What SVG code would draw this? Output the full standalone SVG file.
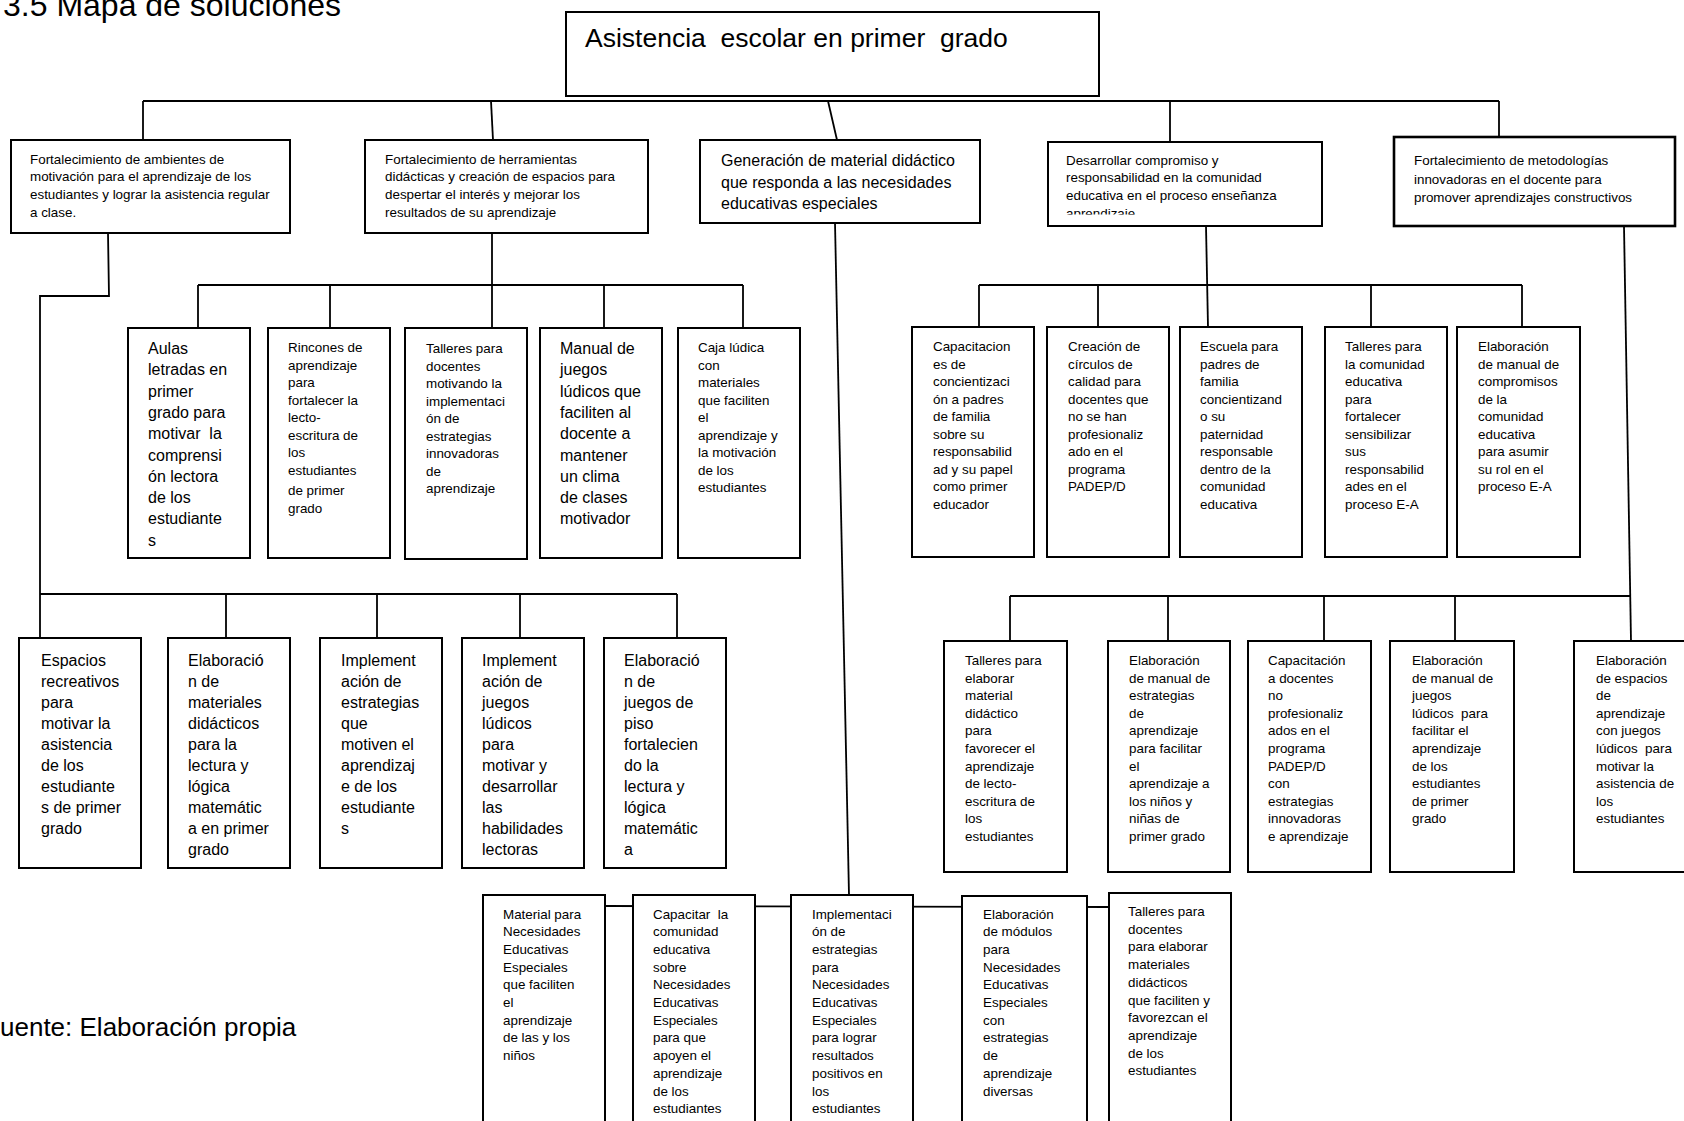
<svg xmlns="http://www.w3.org/2000/svg" width="1684" height="1121" viewBox="0 0 1684 1121">
<style>
text{font-family:"Liberation Sans",Arial,sans-serif;fill:#000}
.s{font-size:13.4px}
.m{font-size:16px}
.b{font-size:26.5px}
.box{fill:#fff;stroke:#000;stroke-width:2}
.ln{fill:none;stroke:#000;stroke-width:1.8}
</style>
<defs>
<clipPath id="clipD"><rect x="1048" y="142" width="274" height="72.5"/></clipPath>
</defs>
<rect width="1684" height="1121" fill="#fff"/>
<text x="3" y="16" style="font-size:32px">3.5 Mapa de soluciones</text>
<text x="0" y="1036" style="font-size:26px">uente: Elaboración propia</text>

<g id="connectors">
<line class="ln" x1="143" y1="101" x2="1499" y2="101"/>
<line class="ln" x1="143" y1="101" x2="143" y2="140"/>
<line class="ln" x1="491" y1="101" x2="493" y2="140"/>
<line class="ln" x1="828" y1="101" x2="837" y2="140"/>
<line class="ln" x1="1170" y1="101" x2="1170" y2="142"/>
<line class="ln" x1="1499" y1="101" x2="1499" y2="137"/>
<polyline class="ln" points="108,233 109,296 40,296 40,638"/>
<line class="ln" x1="40" y1="594" x2="677" y2="594"/>
<line class="ln" x1="226" y1="594" x2="226" y2="638"/>
<line class="ln" x1="377" y1="594" x2="377" y2="638"/>
<line class="ln" x1="520" y1="594" x2="520" y2="638"/>
<line class="ln" x1="677" y1="594" x2="677" y2="638"/>
<line class="ln" x1="492" y1="232" x2="492" y2="328"/>
<line class="ln" x1="198" y1="285" x2="743" y2="285"/>
<line class="ln" x1="198" y1="285" x2="198" y2="328"/>
<line class="ln" x1="330" y1="285" x2="330" y2="328"/>
<line class="ln" x1="604" y1="285" x2="604" y2="328"/>
<line class="ln" x1="743" y1="285" x2="743" y2="328"/>
<line class="ln" x1="1206" y1="226" x2="1208" y2="327"/>
<line class="ln" x1="979" y1="285" x2="1522" y2="285"/>
<line class="ln" x1="979" y1="285" x2="979" y2="327"/>
<line class="ln" x1="1098" y1="285" x2="1098" y2="327"/>
<line class="ln" x1="1371" y1="285" x2="1371" y2="327"/>
<line class="ln" x1="1522" y1="285" x2="1522" y2="327"/>
<line class="ln" x1="1624" y1="226" x2="1631" y2="641"/>
<line class="ln" x1="1010" y1="596" x2="1631" y2="596"/>
<line class="ln" x1="1010" y1="596" x2="1010" y2="641"/>
<line class="ln" x1="1168" y1="596" x2="1168" y2="641"/>
<line class="ln" x1="1324" y1="596" x2="1324" y2="641"/>
<line class="ln" x1="1455" y1="596" x2="1455" y2="641"/>
<line class="ln" x1="835" y1="223" x2="849" y2="895"/>
<line class="ln" x1="605" y1="906" x2="1109" y2="907"/>
</g>

<g id="top">
<rect class="box" x="566" y="12" width="533" height="84"/>
<text class="b" x="585" y="47" xml:space="preserve">Asistencia  escolar en primer  grado</text>
</g>

<g id="n-a">
<rect class="box" x="11" y="140" width="279" height="93"/>
<text class="s" y="163.5"><tspan x="30">Fortalecimiento de ambientes de</tspan><tspan x="30" dy="17.7">motivación para el aprendizaje de los</tspan><tspan x="30" dy="17.7">estudiantes y lograr la asistencia regular</tspan><tspan x="30" dy="17.7">a clase.</tspan></text>
</g>
<g id="n-b">
<rect class="box" x="365" y="140" width="283" height="93"/>
<text class="s" y="163.5"><tspan x="385">Fortalecimiento de herramientas</tspan><tspan x="385" dy="17.7">didácticas y creación de espacios para</tspan><tspan x="385" dy="17.7">despertar el interés y mejorar los</tspan><tspan x="385" dy="17.7">resultados de su aprendizaje</tspan></text>
</g>
<g id="n-c">
<rect class="box" x="700" y="140" width="280" height="83"/>
<text class="m" y="166"><tspan x="721">Generación de material didáctico</tspan><tspan x="721" dy="21.5">que responda a las necesidades</tspan><tspan x="721" dy="21.5">educativas especiales</tspan></text>
</g>
<g id="n-d">
<rect class="box" x="1048" y="142" width="274" height="84"/>
<text class="s" y="164.5" clip-path="url(#clipD)"><tspan x="1066">Desarrollar compromiso y</tspan><tspan x="1066" dy="17.7">responsabilidad en la comunidad</tspan><tspan x="1066" dy="17.7">educativa en el proceso enseñanza</tspan><tspan x="1066" dy="17.7">aprendizaje</tspan></text>
</g>
<g id="n-e">
<rect class="box" x="1394" y="137" width="281" height="89" style="stroke-width:2.6"/>
<text class="s" y="165"><tspan x="1414">Fortalecimiento de metodologías</tspan><tspan x="1414" dy="18.5">innovadoras en el docente para</tspan><tspan x="1414" dy="18.5">promover aprendizajes constructivos</tspan></text>
</g>

<g id="n-b1">
<rect class="box" x="128" y="328" width="122" height="230"/>
<text class="m" y="354"><tspan x="148">Aulas</tspan><tspan x="148" dy="21.3">letradas en</tspan><tspan x="148" dy="21.3">primer</tspan><tspan x="148" dy="21.3">grado para</tspan><tspan x="148" dy="21.3" xml:space="preserve">motivar  la</tspan><tspan x="148" dy="21.3">comprensi</tspan><tspan x="148" dy="21.3">ón lectora</tspan><tspan x="148" dy="21.3">de los</tspan><tspan x="148" dy="21.3">estudiante</tspan><tspan x="148" dy="21.3">s</tspan></text>
</g>
<g id="n-b2">
<rect class="box" x="268" y="328" width="122" height="230"/>
<text class="s" y="352"><tspan x="288">Rincones de</tspan><tspan x="288" dy="17.5">aprendizaje</tspan><tspan x="288" dy="17.5">para</tspan><tspan x="288" dy="17.5">fortalecer la</tspan><tspan x="288" dy="17.5">lecto-</tspan><tspan x="288" dy="17.5">escritura de</tspan><tspan x="288" dy="17.5">los</tspan><tspan x="288" dy="17.5">estudiantes</tspan><tspan x="288" dy="20.5">de primer</tspan><tspan x="288" dy="18">grado</tspan></text>
</g>
<g id="n-b3">
<rect class="box" x="405" y="328" width="122" height="231"/>
<text class="s" y="353"><tspan x="426">Talleres para</tspan><tspan x="426" dy="17.5">docentes</tspan><tspan x="426" dy="17.5">motivando la</tspan><tspan x="426" dy="17.5">implementaci</tspan><tspan x="426" dy="17.5">ón de</tspan><tspan x="426" dy="17.5">estrategias</tspan><tspan x="426" dy="17.5">innovadoras</tspan><tspan x="426" dy="17.5">de</tspan><tspan x="426" dy="17.5">aprendizaje</tspan></text>
</g>
<g id="n-b4">
<rect class="box" x="540" y="328" width="122" height="230"/>
<text class="m" y="354"><tspan x="560">Manual de</tspan><tspan x="560" dy="21.3">juegos</tspan><tspan x="560" dy="21.3">lúdicos que</tspan><tspan x="560" dy="21.3">faciliten al</tspan><tspan x="560" dy="21.3">docente a</tspan><tspan x="560" dy="21.3">mantener</tspan><tspan x="560" dy="21.3">un clima</tspan><tspan x="560" dy="21.3">de clases</tspan><tspan x="560" dy="21.3">motivador</tspan></text>
</g>
<g id="n-b5">
<rect class="box" x="678" y="328" width="122" height="230"/>
<text class="s" y="352"><tspan x="698">Caja lúdica</tspan><tspan x="698" dy="17.5">con</tspan><tspan x="698" dy="17.5">materiales</tspan><tspan x="698" dy="17.5">que faciliten</tspan><tspan x="698" dy="17.5">el</tspan><tspan x="698" dy="17.5">aprendizaje y</tspan><tspan x="698" dy="17.5">la motivación</tspan><tspan x="698" dy="17.5">de los</tspan><tspan x="698" dy="17.5">estudiantes</tspan></text>
</g>

<g id="n-d1">
<rect class="box" x="912" y="327" width="122" height="230"/>
<text class="s" y="351"><tspan x="933">Capacitacion</tspan><tspan x="933" dy="17.5">es de</tspan><tspan x="933" dy="17.5">concientizaci</tspan><tspan x="933" dy="17.5">ón a padres</tspan><tspan x="933" dy="17.5">de familia</tspan><tspan x="933" dy="17.5">sobre su</tspan><tspan x="933" dy="17.5">responsabilid</tspan><tspan x="933" dy="17.5">ad y su papel</tspan><tspan x="933" dy="17.5">como primer</tspan><tspan x="933" dy="17.5">educador</tspan></text>
</g>
<g id="n-d2">
<rect class="box" x="1047" y="327" width="122" height="230"/>
<text class="s" y="351"><tspan x="1068">Creación de</tspan><tspan x="1068" dy="17.5">círculos de</tspan><tspan x="1068" dy="17.5">calidad para</tspan><tspan x="1068" dy="17.5">docentes que</tspan><tspan x="1068" dy="17.5">no se han</tspan><tspan x="1068" dy="17.5">profesionaliz</tspan><tspan x="1068" dy="17.5">ado en el</tspan><tspan x="1068" dy="17.5">programa</tspan><tspan x="1068" dy="17.5">PADEP/D</tspan></text>
</g>
<g id="n-d3">
<rect class="box" x="1180" y="327" width="122" height="230"/>
<text class="s" y="351"><tspan x="1200">Escuela para</tspan><tspan x="1200" dy="17.5">padres de</tspan><tspan x="1200" dy="17.5">familia</tspan><tspan x="1200" dy="17.5">concientizand</tspan><tspan x="1200" dy="17.5">o su</tspan><tspan x="1200" dy="17.5">paternidad</tspan><tspan x="1200" dy="17.5">responsable</tspan><tspan x="1200" dy="17.5">dentro de la</tspan><tspan x="1200" dy="17.5">comunidad</tspan><tspan x="1200" dy="17.5">educativa</tspan></text>
</g>
<g id="n-d4">
<rect class="box" x="1325" y="327" width="122" height="230"/>
<text class="s" y="351"><tspan x="1345">Talleres para</tspan><tspan x="1345" dy="17.5">la comunidad</tspan><tspan x="1345" dy="17.5">educativa</tspan><tspan x="1345" dy="17.5">para</tspan><tspan x="1345" dy="17.5">fortalecer</tspan><tspan x="1345" dy="17.5">sensibilizar</tspan><tspan x="1345" dy="17.5">sus</tspan><tspan x="1345" dy="17.5">responsabilid</tspan><tspan x="1345" dy="17.5">ades en el</tspan><tspan x="1345" dy="17.5">proceso E-A</tspan></text>
</g>
<g id="n-d5">
<rect class="box" x="1457" y="327" width="123" height="230"/>
<text class="s" y="351"><tspan x="1478">Elaboración</tspan><tspan x="1478" dy="17.5">de manual de</tspan><tspan x="1478" dy="17.5">compromisos</tspan><tspan x="1478" dy="17.5">de la</tspan><tspan x="1478" dy="17.5">comunidad</tspan><tspan x="1478" dy="17.5">educativa</tspan><tspan x="1478" dy="17.5">para asumir</tspan><tspan x="1478" dy="17.5">su rol en el</tspan><tspan x="1478" dy="17.5">proceso E-A</tspan></text>
</g>

<g id="n-a1">
<rect class="box" x="19" y="638" width="122" height="230"/>
<text class="m" y="665.5"><tspan x="41">Espacios</tspan><tspan x="41" dy="21.1">recreativos</tspan><tspan x="41" dy="21.1">para</tspan><tspan x="41" dy="21.1">motivar la</tspan><tspan x="41" dy="21.1">asistencia</tspan><tspan x="41" dy="21.1">de los</tspan><tspan x="41" dy="21.1">estudiante</tspan><tspan x="41" dy="21.1">s de primer</tspan><tspan x="41" dy="21.1">grado</tspan></text>
</g>
<g id="n-a2">
<rect class="box" x="168" y="638" width="122" height="230"/>
<text class="m" y="665.5"><tspan x="188">Elaboració</tspan><tspan x="188" dy="21.1">n de</tspan><tspan x="188" dy="21.1">materiales</tspan><tspan x="188" dy="21.1">didácticos</tspan><tspan x="188" dy="21.1">para la</tspan><tspan x="188" dy="21.1">lectura y</tspan><tspan x="188" dy="21.1">lógica</tspan><tspan x="188" dy="21.1">matemátic</tspan><tspan x="188" dy="21.1">a en primer</tspan><tspan x="188" dy="21.1">grado</tspan></text>
</g>
<g id="n-a3">
<rect class="box" x="320" y="638" width="122" height="230"/>
<text class="m" y="665.5"><tspan x="341">Implement</tspan><tspan x="341" dy="21.1">ación de</tspan><tspan x="341" dy="21.1">estrategias</tspan><tspan x="341" dy="21.1">que</tspan><tspan x="341" dy="21.1">motiven el</tspan><tspan x="341" dy="21.1">aprendizaj</tspan><tspan x="341" dy="21.1">e de los</tspan><tspan x="341" dy="21.1">estudiante</tspan><tspan x="341" dy="21.1">s</tspan></text>
</g>
<g id="n-a4">
<rect class="box" x="462" y="638" width="122" height="230"/>
<text class="m" y="665.5"><tspan x="482">Implement</tspan><tspan x="482" dy="21.1">ación de</tspan><tspan x="482" dy="21.1">juegos</tspan><tspan x="482" dy="21.1">lúdicos</tspan><tspan x="482" dy="21.1">para</tspan><tspan x="482" dy="21.1">motivar y</tspan><tspan x="482" dy="21.1">desarrollar</tspan><tspan x="482" dy="21.1">las</tspan><tspan x="482" dy="21.1">habilidades</tspan><tspan x="482" dy="21.1">lectoras</tspan></text>
</g>
<g id="n-a5">
<rect class="box" x="604" y="638" width="122" height="230"/>
<text class="m" y="665.5"><tspan x="624">Elaboració</tspan><tspan x="624" dy="21.1">n de</tspan><tspan x="624" dy="21.1">juegos de</tspan><tspan x="624" dy="21.1">piso</tspan><tspan x="624" dy="21.1">fortalecien</tspan><tspan x="624" dy="21.1">do la</tspan><tspan x="624" dy="21.1">lectura y</tspan><tspan x="624" dy="21.1">lógica</tspan><tspan x="624" dy="21.1">matemátic</tspan><tspan x="624" dy="21.1">a</tspan></text>
</g>

<g id="n-e1">
<rect class="box" x="944" y="641" width="123" height="231"/>
<text class="s" y="665"><tspan x="965">Talleres para</tspan><tspan x="965" dy="17.6">elaborar</tspan><tspan x="965" dy="17.6">material</tspan><tspan x="965" dy="17.6">didáctico</tspan><tspan x="965" dy="17.6">para</tspan><tspan x="965" dy="17.6">favorecer el</tspan><tspan x="965" dy="17.6">aprendizaje</tspan><tspan x="965" dy="17.6">de lecto-</tspan><tspan x="965" dy="17.6">escritura de</tspan><tspan x="965" dy="17.6">los</tspan><tspan x="965" dy="17.6">estudiantes</tspan></text>
</g>
<g id="n-e2">
<rect class="box" x="1108" y="641" width="122" height="231"/>
<text class="s" y="665"><tspan x="1129">Elaboración</tspan><tspan x="1129" dy="17.6">de manual de</tspan><tspan x="1129" dy="17.6">estrategias</tspan><tspan x="1129" dy="17.6">de</tspan><tspan x="1129" dy="17.6">aprendizaje</tspan><tspan x="1129" dy="17.6">para facilitar</tspan><tspan x="1129" dy="17.6">el</tspan><tspan x="1129" dy="17.6">aprendizaje a</tspan><tspan x="1129" dy="17.6">los niños y</tspan><tspan x="1129" dy="17.6">niñas de</tspan><tspan x="1129" dy="17.6">primer grado</tspan></text>
</g>
<g id="n-e3">
<rect class="box" x="1248" y="641" width="123" height="231"/>
<text class="s" y="665"><tspan x="1268">Capacitación</tspan><tspan x="1268" dy="17.6">a docentes</tspan><tspan x="1268" dy="17.6">no</tspan><tspan x="1268" dy="17.6">profesionaliz</tspan><tspan x="1268" dy="17.6">ados en el</tspan><tspan x="1268" dy="17.6">programa</tspan><tspan x="1268" dy="17.6">PADEP/D</tspan><tspan x="1268" dy="17.6">con</tspan><tspan x="1268" dy="17.6">estrategias</tspan><tspan x="1268" dy="17.6">innovadoras</tspan><tspan x="1268" dy="17.6">e aprendizaje</tspan></text>
</g>
<g id="n-e4">
<rect class="box" x="1390" y="641" width="124" height="231"/>
<text class="s" y="665"><tspan x="1412">Elaboración</tspan><tspan x="1412" dy="17.6">de manual de</tspan><tspan x="1412" dy="17.6">juegos</tspan><tspan x="1412" dy="17.6" xml:space="preserve">lúdicos  para</tspan><tspan x="1412" dy="17.6">facilitar el</tspan><tspan x="1412" dy="17.6">aprendizaje</tspan><tspan x="1412" dy="17.6">de los</tspan><tspan x="1412" dy="17.6">estudiantes</tspan><tspan x="1412" dy="17.6">de primer</tspan><tspan x="1412" dy="17.6">grado</tspan></text>
</g>
<g id="n-e5">
<rect class="box" x="1574" y="641" width="124" height="231"/>
<text class="s" y="665"><tspan x="1596">Elaboración</tspan><tspan x="1596" dy="17.6">de espacios</tspan><tspan x="1596" dy="17.6">de</tspan><tspan x="1596" dy="17.6">aprendizaje</tspan><tspan x="1596" dy="17.6">con juegos</tspan><tspan x="1596" dy="17.6" xml:space="preserve">lúdicos  para</tspan><tspan x="1596" dy="17.6">motivar la</tspan><tspan x="1596" dy="17.6">asistencia de</tspan><tspan x="1596" dy="17.6">los</tspan><tspan x="1596" dy="17.6">estudiantes</tspan></text>
</g>

<g id="n-c1">
<rect class="box" x="483" y="895" width="122" height="240"/>
<text class="s" y="918.5"><tspan x="503">Material para</tspan><tspan x="503" dy="17.7">Necesidades</tspan><tspan x="503" dy="17.7">Educativas</tspan><tspan x="503" dy="17.7">Especiales</tspan><tspan x="503" dy="17.7">que faciliten</tspan><tspan x="503" dy="17.7">el</tspan><tspan x="503" dy="17.7">aprendizaje</tspan><tspan x="503" dy="17.7">de las y los</tspan><tspan x="503" dy="17.7">niños</tspan></text>
</g>
<g id="n-c2">
<rect class="box" x="633" y="895" width="122" height="240"/>
<text class="s" y="918.5"><tspan x="653" xml:space="preserve">Capacitar  la</tspan><tspan x="653" dy="17.7">comunidad</tspan><tspan x="653" dy="17.7">educativa</tspan><tspan x="653" dy="17.7">sobre</tspan><tspan x="653" dy="17.7">Necesidades</tspan><tspan x="653" dy="17.7">Educativas</tspan><tspan x="653" dy="17.7">Especiales</tspan><tspan x="653" dy="17.7">para que</tspan><tspan x="653" dy="17.7">apoyen el</tspan><tspan x="653" dy="17.7">aprendizaje</tspan><tspan x="653" dy="17.7">de los</tspan><tspan x="653" dy="17.7">estudiantes</tspan></text>
</g>
<g id="n-c3">
<rect class="box" x="791" y="895" width="122" height="240"/>
<text class="s" y="918.5"><tspan x="812">Implementaci</tspan><tspan x="812" dy="17.7">ón de</tspan><tspan x="812" dy="17.7">estrategias</tspan><tspan x="812" dy="17.7">para</tspan><tspan x="812" dy="17.7">Necesidades</tspan><tspan x="812" dy="17.7">Educativas</tspan><tspan x="812" dy="17.7">Especiales</tspan><tspan x="812" dy="17.7">para lograr</tspan><tspan x="812" dy="17.7">resultados</tspan><tspan x="812" dy="17.7">positivos en</tspan><tspan x="812" dy="17.7">los</tspan><tspan x="812" dy="17.7">estudiantes</tspan></text>
</g>
<g id="n-c4">
<rect class="box" x="962" y="896" width="125" height="240"/>
<text class="s" y="918.5"><tspan x="983">Elaboración</tspan><tspan x="983" dy="17.7">de módulos</tspan><tspan x="983" dy="17.7">para</tspan><tspan x="983" dy="17.7">Necesidades</tspan><tspan x="983" dy="17.7">Educativas</tspan><tspan x="983" dy="17.7">Especiales</tspan><tspan x="983" dy="17.7">con</tspan><tspan x="983" dy="17.7">estrategias</tspan><tspan x="983" dy="17.7">de</tspan><tspan x="983" dy="17.7">aprendizaje</tspan><tspan x="983" dy="17.7">diversas</tspan></text>
</g>
<g id="n-c5">
<rect class="box" x="1109" y="893" width="122" height="240"/>
<text class="s" y="916"><tspan x="1128">Talleres para</tspan><tspan x="1128" dy="17.7">docentes</tspan><tspan x="1128" dy="17.7">para elaborar</tspan><tspan x="1128" dy="17.7">materiales</tspan><tspan x="1128" dy="17.7">didácticos</tspan><tspan x="1128" dy="17.7">que faciliten y</tspan><tspan x="1128" dy="17.7">favorezcan el</tspan><tspan x="1128" dy="17.7">aprendizaje</tspan><tspan x="1128" dy="17.7">de los</tspan><tspan x="1128" dy="17.7">estudiantes</tspan></text>
</g>
</svg>
